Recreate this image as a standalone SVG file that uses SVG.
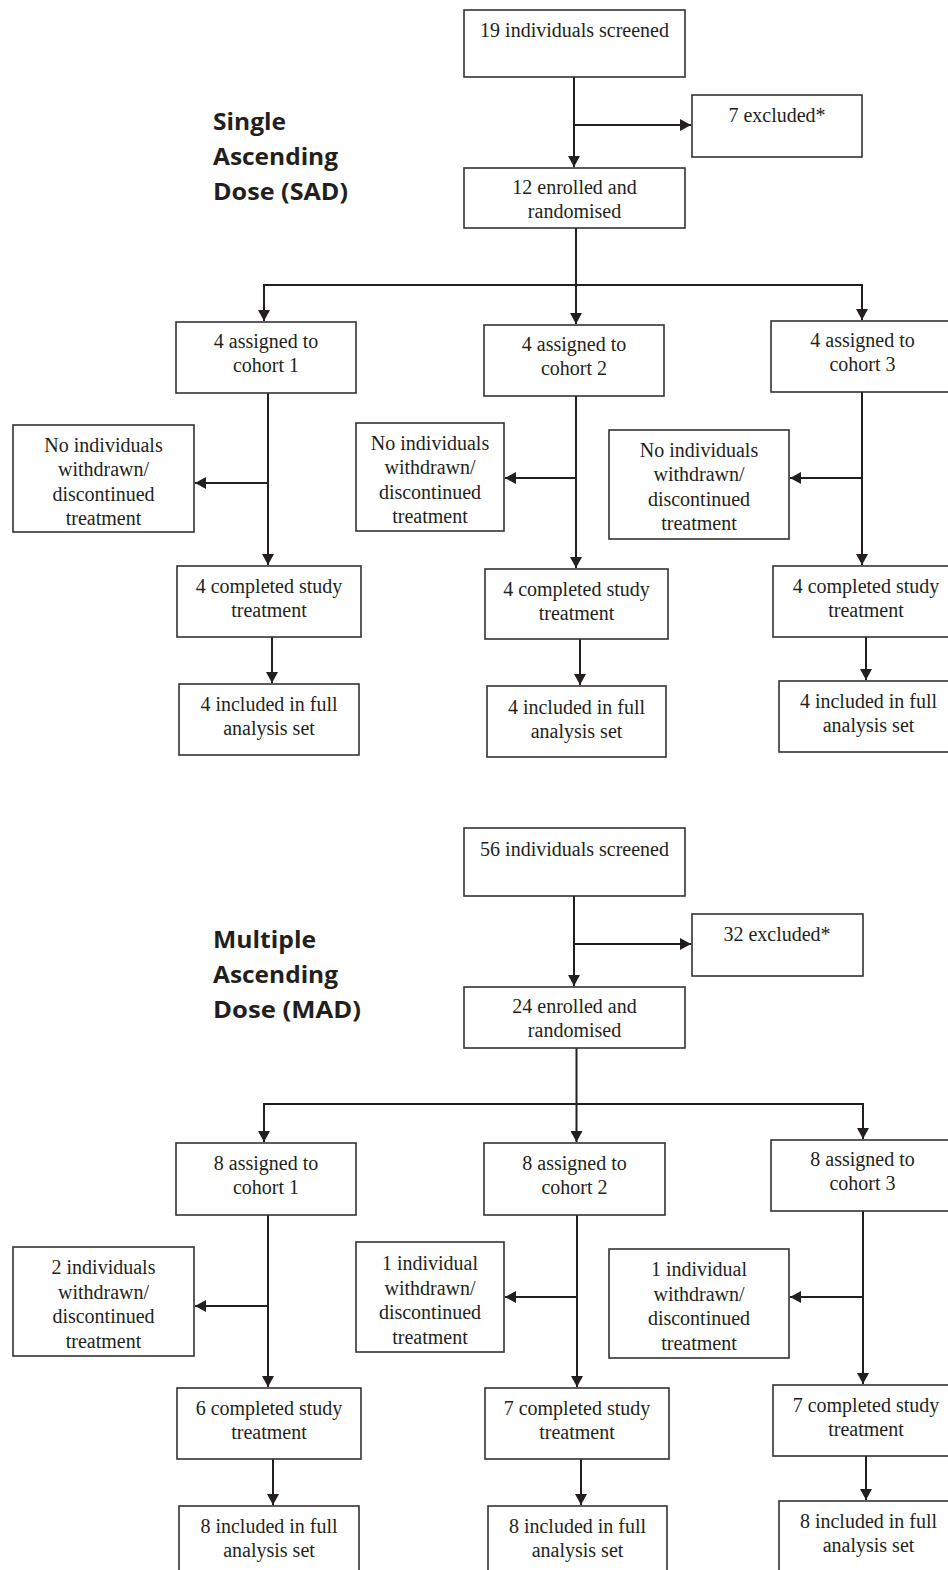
<svg xmlns="http://www.w3.org/2000/svg" width="948" height="1570" viewBox="0 0 948 1570">
<style>
.box{fill:#fff;stroke:#333;stroke-width:1.6}
.t{font-size:20px;fill:#231f20;text-anchor:middle}
.h{font-weight:bold;font-size:23px;fill:#231f20}
.c{fill:none;stroke:#231f20;stroke-width:2}
</style>
<defs>
<marker id="arr" markerUnits="userSpaceOnUse" markerWidth="12" markerHeight="12" refX="11" refY="6" orient="auto">
<path d="M0,0 L11,6 L0,12 z" fill="#231f20"/>
</marker>
</defs>
<rect width="948" height="1570" fill="#fff"/>

<g font-family="'Open Sans', Lato, sans-serif">
<g id="heading-sad">
<text class="h" x="213" y="129.5" textLength="73" lengthAdjust="spacingAndGlyphs">Single</text>
<text class="h" x="213" y="164.5" textLength="125" lengthAdjust="spacingAndGlyphs">Ascending</text>
<text class="h" x="213" y="200" textLength="135" lengthAdjust="spacingAndGlyphs">Dose (SAD)</text>
</g>
<g id="heading-mad">
<text class="h" x="213" y="947.5" textLength="103" lengthAdjust="spacingAndGlyphs">Multiple</text>
<text class="h" x="213" y="982.5" textLength="125" lengthAdjust="spacingAndGlyphs">Ascending</text>
<text class="h" x="213" y="1018" textLength="148" lengthAdjust="spacingAndGlyphs">Dose (MAD)</text>
</g>
</g>

<g id="connectors">
<path class="c" d="M574,77 V167" marker-end="url(#arr)"/>
<path class="c" d="M574,125 H691" marker-end="url(#arr)"/>
<path class="c" d="M576,228 V324" marker-end="url(#arr)"/>
<path class="c" d="M264,285 H862"/>
<path class="c" d="M264,284 V321" marker-end="url(#arr)"/>
<path class="c" d="M862,284 V320" marker-end="url(#arr)"/>
<path class="c" d="M268,393 V565" marker-end="url(#arr)"/>
<path class="c" d="M268,483 H195" marker-end="url(#arr)"/>
<path class="c" d="M576,396 V568" marker-end="url(#arr)"/>
<path class="c" d="M576,478 H505" marker-end="url(#arr)"/>
<path class="c" d="M862,392 V565" marker-end="url(#arr)"/>
<path class="c" d="M862,478 H790" marker-end="url(#arr)"/>
<path class="c" d="M272,637 V683" marker-end="url(#arr)"/>
<path class="c" d="M580,639 V685" marker-end="url(#arr)"/>
<path class="c" d="M866,637 V680" marker-end="url(#arr)"/>
<path class="c" d="M574,896 V986" marker-end="url(#arr)"/>
<path class="c" d="M574,944 H691" marker-end="url(#arr)"/>
<path class="c" d="M576.5,1048 V1142" marker-end="url(#arr)"/>
<path class="c" d="M264,1104 H863"/>
<path class="c" d="M264,1103 V1142" marker-end="url(#arr)"/>
<path class="c" d="M863,1103 V1139" marker-end="url(#arr)"/>
<path class="c" d="M268,1215 V1387" marker-end="url(#arr)"/>
<path class="c" d="M268,1306 H195" marker-end="url(#arr)"/>
<path class="c" d="M577,1215 V1387" marker-end="url(#arr)"/>
<path class="c" d="M577,1297 H505" marker-end="url(#arr)"/>
<path class="c" d="M863,1211 V1384" marker-end="url(#arr)"/>
<path class="c" d="M863,1297 H790" marker-end="url(#arr)"/>
<path class="c" d="M273,1459 V1505" marker-end="url(#arr)"/>
<path class="c" d="M581,1459 V1505" marker-end="url(#arr)"/>
<path class="c" d="M866,1456 V1500" marker-end="url(#arr)"/>
</g>

<g font-family="'Liberation Serif', 'Times New Roman', serif">
<g id="sad-screened"><rect class="box" x="464" y="10" width="221" height="67"/><text class="t" x="574.5" y="36.5">19 individuals screened</text></g>
<g id="sad-excluded"><rect class="box" x="692" y="95" width="170" height="62"/><text class="t" x="777" y="122">7 excluded*</text></g>
<g id="sad-enrolled"><rect class="box" x="464" y="168" width="221" height="60"/><text class="t" x="574.5" y="194">12 enrolled and</text><text class="t" x="574.5" y="218">randomised</text></g>
<g id="sad-cohort1"><rect class="box" x="176" y="322" width="180" height="71"/><text class="t" x="266" y="348">4 assigned to</text><text class="t" x="266" y="372">cohort 1</text></g>
<g id="sad-cohort2"><rect class="box" x="484" y="325" width="180" height="71"/><text class="t" x="574" y="351">4 assigned to</text><text class="t" x="574" y="375">cohort 2</text></g>
<g id="sad-cohort3"><rect class="box" x="771" y="321" width="190" height="71"/><text class="t" x="862.5" y="347">4 assigned to</text><text class="t" x="862.5" y="371">cohort 3</text></g>
<g id="sad-withdrawn1"><rect class="box" x="13" y="425" width="181" height="107"/><text class="t" x="103.5" y="451.5">No individuals</text><text class="t" x="103.5" y="476">withdrawn/</text><text class="t" x="103.5" y="500.5">discontinued</text><text class="t" x="103.5" y="525">treatment</text></g>
<g id="sad-withdrawn2"><rect class="box" x="356" y="423" width="148" height="108"/><text class="t" x="430" y="449.5">No individuals</text><text class="t" x="430" y="474">withdrawn/</text><text class="t" x="430" y="498.5">discontinued</text><text class="t" x="430" y="523">treatment</text></g>
<g id="sad-withdrawn3"><rect class="box" x="609" y="430" width="180" height="109"/><text class="t" x="699" y="456.5">No individuals</text><text class="t" x="699" y="481">withdrawn/</text><text class="t" x="699" y="505.5">discontinued</text><text class="t" x="699" y="530">treatment</text></g>
<g id="sad-completed1"><rect class="box" x="177" y="566" width="184" height="71"/><text class="t" x="269" y="593">4 completed study</text><text class="t" x="269" y="617">treatment</text></g>
<g id="sad-completed2"><rect class="box" x="485" y="569" width="183" height="70"/><text class="t" x="576.5" y="596">4 completed study</text><text class="t" x="576.5" y="620">treatment</text></g>
<g id="sad-completed3"><rect class="box" x="773" y="566" width="190" height="71"/><text class="t" x="866" y="593">4 completed study</text><text class="t" x="866" y="617">treatment</text></g>
<g id="sad-included1"><rect class="box" x="179" y="684" width="180" height="71"/><text class="t" x="269" y="711">4 included in full</text><text class="t" x="269" y="735">analysis set</text></g>
<g id="sad-included2"><rect class="box" x="487" y="686" width="179" height="71"/><text class="t" x="576.5" y="714">4 included in full</text><text class="t" x="576.5" y="738">analysis set</text></g>
<g id="sad-included3"><rect class="box" x="779" y="681" width="185" height="71"/><text class="t" x="868.5" y="708">4 included in full</text><text class="t" x="868.5" y="732">analysis set</text></g>

<g id="mad-screened"><rect class="box" x="464" y="828" width="221" height="68"/><text class="t" x="574.5" y="855.5">56 individuals screened</text></g>
<g id="mad-excluded"><rect class="box" x="692" y="914" width="171" height="62"/><text class="t" x="777" y="941">32 excluded*</text></g>
<g id="mad-enrolled"><rect class="box" x="464" y="987" width="221" height="61"/><text class="t" x="574.5" y="1013">24 enrolled and</text><text class="t" x="574.5" y="1037">randomised</text></g>
<g id="mad-cohort1"><rect class="box" x="176" y="1143" width="180" height="72"/><text class="t" x="266" y="1170">8 assigned to</text><text class="t" x="266" y="1194">cohort 1</text></g>
<g id="mad-cohort2"><rect class="box" x="484" y="1143" width="181" height="72"/><text class="t" x="574.5" y="1170">8 assigned to</text><text class="t" x="574.5" y="1194">cohort 2</text></g>
<g id="mad-cohort3"><rect class="box" x="771" y="1140" width="190" height="71"/><text class="t" x="862.5" y="1166">8 assigned to</text><text class="t" x="862.5" y="1190">cohort 3</text></g>
<g id="mad-withdrawn1"><rect class="box" x="13" y="1247" width="181" height="109"/><text class="t" x="103.5" y="1274">2 individuals</text><text class="t" x="103.5" y="1298.5">withdrawn/</text><text class="t" x="103.5" y="1323">discontinued</text><text class="t" x="103.5" y="1347.5">treatment</text></g>
<g id="mad-withdrawn2"><rect class="box" x="356" y="1242" width="148" height="110"/><text class="t" x="430" y="1270">1 individual</text><text class="t" x="430" y="1294.5">withdrawn/</text><text class="t" x="430" y="1319">discontinued</text><text class="t" x="430" y="1343.5">treatment</text></g>
<g id="mad-withdrawn3"><rect class="box" x="609" y="1249" width="180" height="109"/><text class="t" x="699" y="1276">1 individual</text><text class="t" x="699" y="1300.5">withdrawn/</text><text class="t" x="699" y="1325">discontinued</text><text class="t" x="699" y="1349.5">treatment</text></g>
<g id="mad-completed1"><rect class="box" x="177" y="1388" width="184" height="71"/><text class="t" x="269" y="1415">6 completed study</text><text class="t" x="269" y="1439">treatment</text></g>
<g id="mad-completed2"><rect class="box" x="485" y="1388" width="184" height="71"/><text class="t" x="577" y="1415">7 completed study</text><text class="t" x="577" y="1439">treatment</text></g>
<g id="mad-completed3"><rect class="box" x="773" y="1385" width="190" height="71"/><text class="t" x="866" y="1412">7 completed study</text><text class="t" x="866" y="1436">treatment</text></g>
<g id="mad-included1"><rect class="box" x="179" y="1506" width="180" height="80"/><text class="t" x="269" y="1533">8 included in full</text><text class="t" x="269" y="1557">analysis set</text></g>
<g id="mad-included2"><rect class="box" x="488" y="1506" width="179" height="80"/><text class="t" x="577.5" y="1533">8 included in full</text><text class="t" x="577.5" y="1557">analysis set</text></g>
<g id="mad-included3"><rect class="box" x="779" y="1501" width="185" height="80"/><text class="t" x="868.5" y="1528">8 included in full</text><text class="t" x="868.5" y="1552">analysis set</text></g>
</g>
</svg>
